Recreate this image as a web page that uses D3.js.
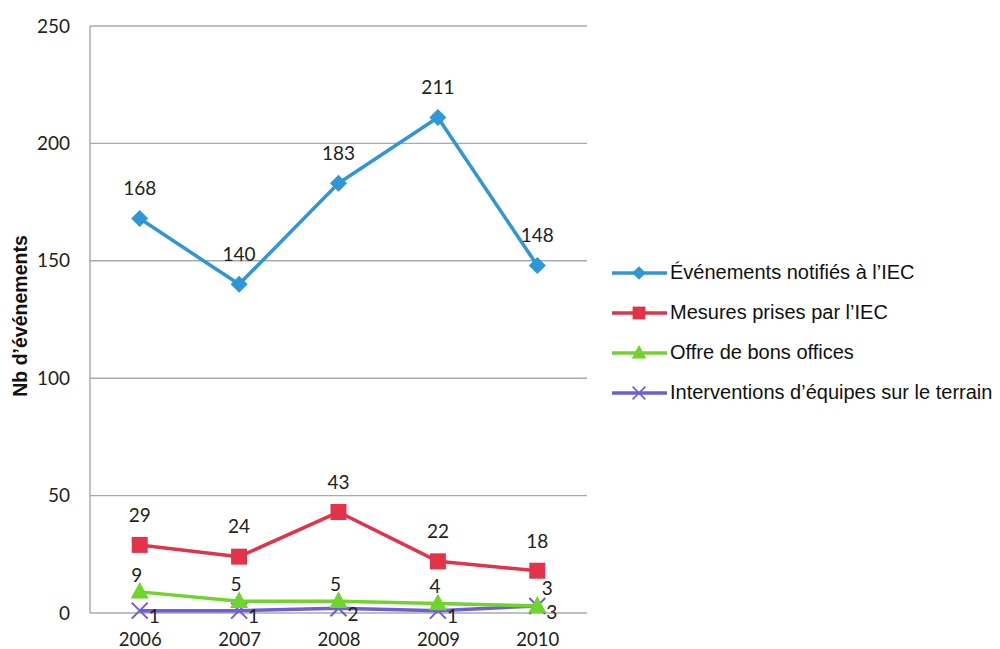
<!DOCTYPE html>
<html>
<head>
<meta charset="utf-8">
<script src="https://cdn.jsdelivr.net/npm/d3@7"></script>
<style>
  body { margin: 0; background: #fff; }
  svg { display: block; }
</style>
</head>
<body>
<svg id="chart" width="1000" height="649"></svg>
<script>
// Years on the x axis
const years = ["2006", "2007", "2008", "2009", "2010"];

// Series values, one array per series
const evenementsNotifies = [168, 140, 183, 211, 148];
const mesuresPrises = [29, 24, 43, 22, 18];
const offreBonsOffices = [9, 5, 5, 4, 3];
const interventionsTerrain = [1, 1, 2, 1, 3];

// Series names as shown in the legend
const seriesNames = [
  "Événements notifiés à l’IEC",
  "Mesures prises par l’IEC",
  "Offre de bons offices",
  "Interventions d’équipes sur le terrain"
];

// Y axis ticks
const yTicks = [0, 50, 100, 150, 200, 250];

const series = [
  { name: seriesNames[0], values: evenementsNotifies, color: "#2e97d6", marker: "diamond", label: "above" },
  { name: seriesNames[1], values: mesuresPrises, color: "#e2334a", marker: "square", label: "above" },
  { name: seriesNames[2], values: offreBonsOffices, color: "#6fd42c", marker: "triangle", label: "aboveLeft" },
  { name: seriesNames[3], values: interventionsTerrain, color: "#6f5fd6", marker: "cross", label: "belowRight" }
];

const svg = d3.select("#chart");
const plot = { left: 90, right: 587, top: 26, bottom: 613 };

const x = d3.scalePoint().domain(years).range([plot.left, plot.right]).padding(0.5);
const y = d3.scaleLinear().domain([0, 250]).range([plot.bottom, plot.top]);

const gridColor = "#a3acab";
const numFont = "Lato, 'Open Sans', sans-serif";
const textFont = "'Liberation Sans', Arial, sans-serif";

// Horizontal grid lines
svg.append("g")
  .selectAll("line")
  .data(yTicks)
  .join("line")
  .attr("x1", plot.left).attr("x2", plot.right)
  .attr("y1", d => y(d)).attr("y2", d => y(d))
  .attr("stroke", gridColor).attr("stroke-width", 1.4);

// Left axis line
svg.append("line")
  .attr("x1", plot.left).attr("x2", plot.left)
  .attr("y1", plot.top).attr("y2", plot.bottom)
  .attr("stroke", gridColor).attr("stroke-width", 1.4);

// Y axis tick labels
const yAxis = d3.axisLeft(y).tickValues(yTicks).tickSize(0).tickPadding(20);
const gy = svg.append("g").attr("transform", `translate(${plot.left},0)`).call(yAxis);
gy.select(".domain").remove();
gy.selectAll("text")
  .attr("font-family", numFont).attr("font-size", 19).attr("fill", "#222");

// X axis tick labels
const xAxis = d3.axisBottom(x).tickSize(0).tickPadding(20);
const gx = svg.append("g").attr("transform", `translate(0,${plot.bottom})`).call(xAxis);
gx.select(".domain").remove();
gx.selectAll("text")
  .attr("font-family", numFont).attr("font-size", 18.5).attr("fill", "#222");

// Y axis title
svg.append("text")
  .attr("transform", "translate(27,316) rotate(-90)")
  .attr("text-anchor", "middle")
  .attr("font-family", textFont).attr("font-weight", "bold").attr("font-size", 19.5)
  .attr("fill", "#111")
  .text("Nb d’événements");

// Marker shapes
function drawMarker(g, type, color, cx, cy, scale = 1) {
  if (type === "diamond") {
    const s = 8.5 * scale;
    g.append("path")
      .attr("d", `M${cx},${cy - s}L${cx + s},${cy}L${cx},${cy + s}L${cx - s},${cy}Z`)
      .attr("fill", color);
  } else if (type === "square") {
    const s = 16 * scale;
    g.append("rect")
      .attr("x", cx - s / 2).attr("y", cy - s / 2)
      .attr("width", s).attr("height", s)
      .attr("fill", color);
  } else if (type === "triangle") {
    const s = 9 * scale;
    g.append("path")
      .attr("d", `M${cx},${cy - s * 1.1}L${cx + s},${cy + s * 0.75}L${cx - s},${cy + s * 0.75}Z`)
      .attr("fill", color);
  } else if (type === "cross") {
    const s = 8 * scale;
    g.append("path")
      .attr("d", `M${cx - s},${cy - s}L${cx + s},${cy + s}M${cx - s},${cy + s}L${cx + s},${cy - s}`)
      .attr("stroke", color).attr("stroke-width", 2 * scale).attr("fill", "none");
  }
}

const line = d3.line().x((d, i) => x(years[i])).y(d => y(d));

// Draw lines in reverse order so the first series stays on top
const seriesG = svg.append("g");
series.slice().reverse().forEach(s => {
  const g = seriesG.append("g");
  g.append("path")
    .datum(s.values)
    .attr("d", line)
    .attr("fill", "none")
    .attr("stroke", s.color)
    .attr("stroke-width", 3.5)
    .attr("stroke-linejoin", "round");
  s.values.forEach((v, i) => drawMarker(g, s.marker, s.color, x(years[i]), y(v)));
});

// Data labels
const labelG = svg.append("g")
  .attr("font-family", numFont).attr("font-size", 19).attr("fill", "#222");
series.forEach(s => {
  s.values.forEach((v, i) => {
    const px = x(years[i]), py = y(v);
    let lx = px, ly = py - 28, anchor = "middle";
    if (s.label === "aboveLeft") {
      const last = i === s.values.length - 1;
      lx = last ? px + 10 : px - 3;
      ly = last ? py - 16 : py - 15;
    } else if (s.label === "belowRight") {
      lx = px + 9; ly = py + 8; anchor = "start";
    }
    labelG.append("text")
      .attr("x", lx).attr("y", ly)
      .attr("text-anchor", anchor)
      .attr("dominant-baseline", "middle")
      .text(v);
  });
});

// Legend
const legend = svg.append("g").attr("transform", "translate(612,273)");
series.forEach((s, i) => {
  const row = legend.append("g").attr("transform", `translate(0,${i * 40})`);
  row.append("line")
    .attr("x1", 0).attr("x2", 55).attr("y1", 0).attr("y2", 0)
    .attr("stroke", s.color).attr("stroke-width", 3.5);
  drawMarker(row, s.marker, s.color, 27, 0, 0.8);
  row.append("text")
    .attr("x", 58).attr("y", 1)
    .attr("dominant-baseline", "middle")
    .attr("font-family", textFont).attr("font-size", 20).attr("fill", "#111")
    .text(s.name);
});
</script>
</body>
</html>
